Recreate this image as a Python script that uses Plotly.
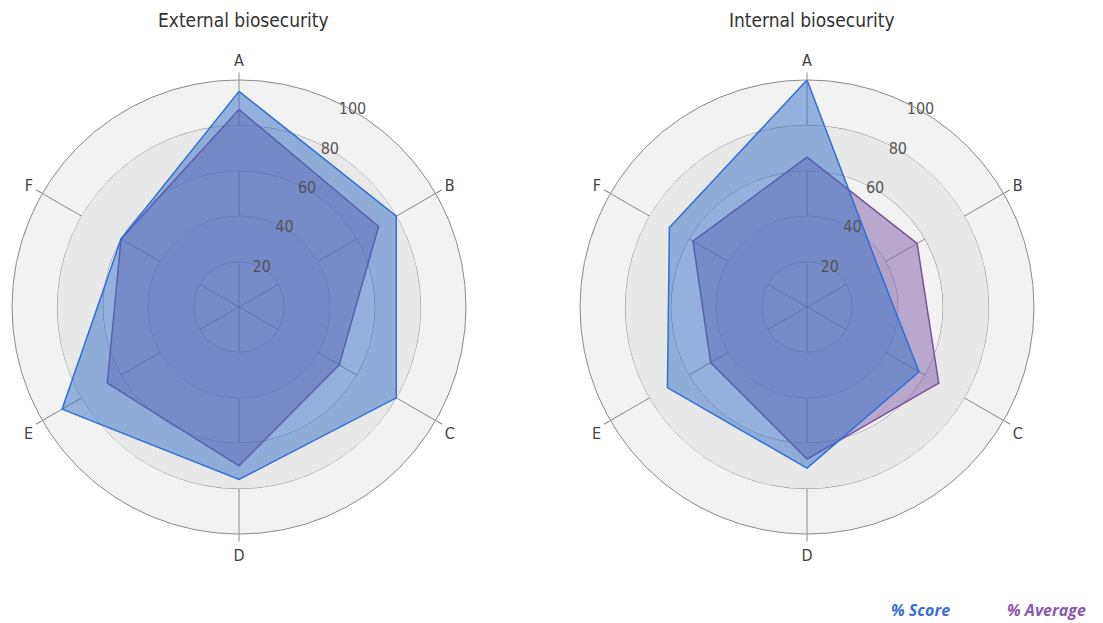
import plotly.graph_objects as go

categories = ["A", "B", "C", "D", "E", "F"]
external_score = [95, 80, 80, 76, 90, 60]
external_average = [87, 71, 51, 70, 67, 60]
internal_score = [100, 36, 57, 71, 71, 70]
internal_average = [66, 56, 67, 67, 49, 58]
radial_ticks = [20, 40, 60, 80, 100]
titles = ["External biosecurity", "Internal biosecurity"]
series_names = ["% Score", "% Average"]

FONT = "Liberation Sans Narrow, DejaVu Sans Condensed, Roboto, sans-serif"
SCORE_LINE = "#2f6fd6"
SCORE_FILL = "rgba(52,112,198,0.5)"
AVG_LINE = "#7b4f9e"
AVG_FILL = "rgba(128,94,168,0.5)"

W, H = 1103, 623
OFF = 8  # default page body margin
TICK_THETA = 30  # direction in which the radial tick labels run

angles = [i * 360 / len(categories) for i in range(len(categories))]


def closed(vals):
    return list(vals) + [vals[0]]


def px(x):
    return (x - OFF) / W


def py(y):
    return 1 - (y - OFF) / H


fig = go.Figure()

panels = [("polar", external_score, external_average), ("polar2", internal_score, internal_average)]
for subplot, score, avg in panels:
    fig.add_trace(go.Barpolar(
        r=[20, 20], base=[20, 60], theta=[0, 0], width=[360, 360],
        marker=dict(color="#e8e8e8", line=dict(width=0)),
        hoverinfo="skip", showlegend=False, subplot=subplot,
    ))
    fig.add_trace(go.Scatterpolar(
        r=closed(avg), theta=closed(angles), mode="lines", fill="toself",
        fillcolor=AVG_FILL, line=dict(color=AVG_LINE, width=1.5),
        name=series_names[1], showlegend=False, subplot=subplot,
    ))
    fig.add_trace(go.Scatterpolar(
        r=closed(score), theta=closed(angles), mode="lines", fill="toself",
        fillcolor=SCORE_FILL, line=dict(color=SCORE_LINE, width=1.5),
        name=series_names[0], showlegend=False, subplot=subplot,
    ))
    fig.add_trace(go.Scatterpolar(
        r=radial_ticks, theta=[TICK_THETA] * len(radial_ticks), mode="text",
        text=[str(v) for v in radial_ticks], textposition="middle center",
        textfont=dict(family=FONT, size=16, color="#555555"),
        hoverinfo="skip", showlegend=False, subplot=subplot,
    ))

polar_common = dict(
    bgcolor="#f2f2f2",
    radialaxis=dict(
        range=[0, 100], tickvals=radial_ticks, showticklabels=False, showline=False,
        ticks="", gridcolor="#8a8a8a", gridwidth=1,
    ),
    angularaxis=dict(
        rotation=90, direction="clockwise", tickmode="array",
        tickvals=angles, ticktext=categories, ticks="outside", ticklen=7,
        tickcolor="#8a8a8a", linecolor="#8a8a8a", gridcolor="#8a8a8a",
        showline=True, tickfont=dict(family=FONT, size=16, color="#444444"),
    ),
)

fig.update_layout(
    width=W, height=H,
    margin=dict(l=0, r=0, t=0, b=0),
    paper_bgcolor="white",
    showlegend=False,
    polar=dict(domain=dict(x=[px(12), px(466)], y=[py(534), py(80)]), **polar_common),
    polar2=dict(domain=dict(x=[px(580), px(1034)], y=[py(534), py(80)]), **polar_common),
    annotations=[
        dict(text=titles[0], x=px(243), y=py(20), xref="paper", yref="paper",
             xanchor="center", yanchor="middle", showarrow=False,
             font=dict(family=FONT, size=19, color="#333333")),
        dict(text=titles[1], x=px(812), y=py(20), xref="paper", yref="paper",
             xanchor="center", yanchor="middle", showarrow=False,
             font=dict(family=FONT, size=19, color="#333333")),
        dict(text="<b><i>" + series_names[0] + "</i></b>", x=px(920), y=py(610),
             xref="paper", yref="paper", xanchor="center", yanchor="middle", showarrow=False,
             font=dict(family="Open Sans, sans-serif", size=16, color="#3a6fd0")),
        dict(text="<b><i>" + series_names[1] + "</i></b>", x=px(1046), y=py(610),
             xref="paper", yref="paper", xanchor="center", yanchor="middle", showarrow=False,
             font=dict(family="Open Sans, sans-serif", size=16, color="#8a5aa8")),
    ],
)

fig.write_html("out.html")
